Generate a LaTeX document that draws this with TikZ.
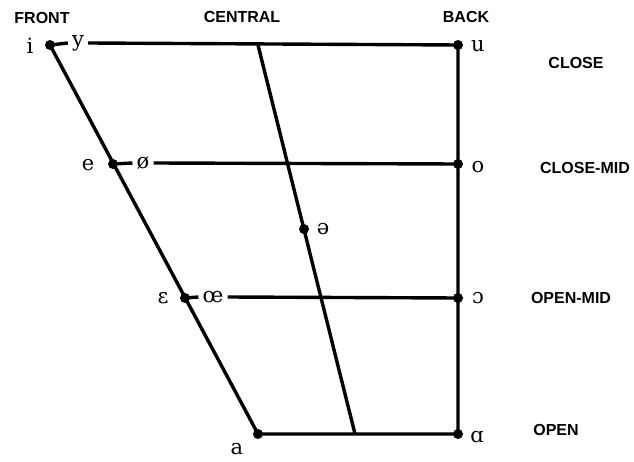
\documentclass[tikz,border=0pt]{standalone}
\usepackage{fontspec}
\setmainfont{DejaVu Serif}
\newfontfamily\headfont{Liberation Sans}

\tikzset{
  vline/.style={line width=3.4pt},
  vowel/.style={font=\fontsize{21}{21}\selectfont, inner sep=1pt},
  gapvowel/.style={vowel, inner sep=4pt},
  head/.style={font=\headfont\bfseries\fontsize{16}{16}\selectfont},
}

\begin{document}
\begin{tikzpicture}[x=1pt,y=-1pt]
\useasboundingbox (0,0) rectangle (634,462);
% corner points of the chart
\coordinate (i) at (50,45);
\coordinate (u) at (458,45);
\coordinate (e) at (113,164);
\coordinate (o) at (458,164);
\coordinate (eps) at (185,298);
\coordinate (oo) at (458,298);
\coordinate (a) at (258,434);
\coordinate (aa) at (458,434);
\coordinate (ctop) at (258,45);
\coordinate (cbot) at (355,434);
\coordinate (schwa) at (304,229);
% rounded front vowels sit on the lines
\node[gapvowel] (y) at (78,43) {y};
\node[gapvowel] (oslash) at (143,163) {ø};
\node[gapvowel] (oe) at (213,297) {œ};
% frame
\draw[vline] (i) -- (y.west);
\draw[vline] (y.east) -- (u);
\draw[vline] (e) -- (oslash.west);
\draw[vline] (oslash.east) -- (o);
\draw[vline] (eps) -- (oe.west);
\draw[vline] (oe.east) -- (oo);
\draw[vline] (i) -- (a) -- (aa) -- (u);
\draw[vline] (ctop) -- (cbot);
% dots
\foreach \p in {i,u,e,o,eps,oo,a,aa,schwa}
  \fill (\p) circle (5pt);
% vowel symbols
\node[vowel] (li) at (30,46) {i};
\node[vowel] (le) at (88,165) {e};
\node[vowel] (leps) at (163,298) {ɛ};
\node[vowel] (la) at (237,449) {a};
\node[vowel] (lu) at (478,46) {u};
\node[vowel] (lo) at (478,167) {o};
\node[vowel] (loo) at (478,298) {ɔ};
\node[vowel] (laa) at (477,437) {ɑ};
\node[vowel] (lschwa) at (323,229) {ə};
% headings
\node[head] (front) at (42,18) {FRONT};
\node[head] (central) at (242,17) {CENTRAL};
\node[head] (back) at (466,17) {BACK};
\node[head] (close) at (576,63) {CLOSE};
\node[head] (closemid) at (585,168) {CLOSE-MID};
\node[head] (openmid) at (571,298) {OPEN-MID};
\node[head] (open) at (556,430) {OPEN};
\end{tikzpicture}
\end{document}
